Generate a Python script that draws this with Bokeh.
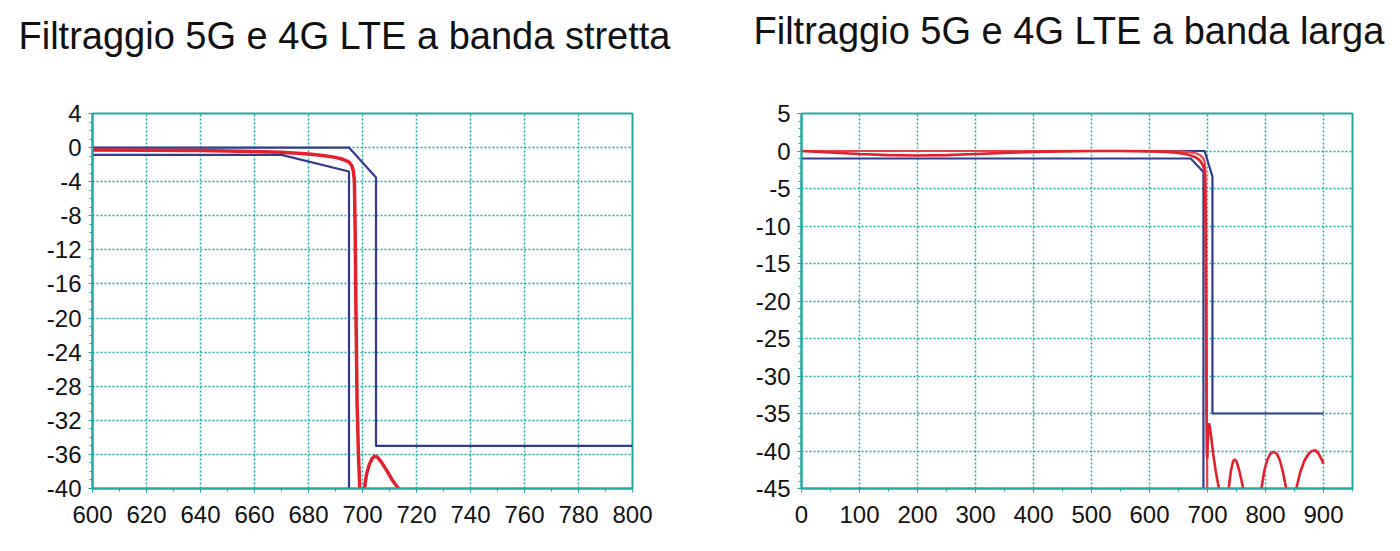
from bokeh.plotting import figure
from bokeh.layouts import row
from bokeh.models import FixedTicker, Range1d, Title
from bokeh.embed import file_html
from bokeh.resources import INLINE

# ---------------- data: narrow band (left) ----------------
n_title = "Filtraggio 5G e 4G LTE a banda stretta"
n_xticks = [600, 620, 640, 660, 680, 700, 720, 740, 760, 780, 800]
n_yticks = [4, 0, -4, -8, -12, -16, -20, -24, -28, -32, -36, -40]
n_upper_x = [600, 695, 705, 705, 800]
n_upper_y = [0, 0, -3.5, -35, -35]
n_lower_x = [600, 670, 695, 695]
n_lower_y = [-0.85, -0.85, -2.8, -45]
n_red_x = [600, 620, 640, 660, 670, 680, 686, 690, 693, 695, 696, 696.6, 697.0,
           697.3, 697.6, 698.0, 698.5, 699.0, 699.5, 700.0, 700.5, 701.5, 702.5,
           703.5, 704.5, 705.5, 707, 709, 711, 713.3, 714.5]
n_red_y = [-0.27, -0.3, -0.35, -0.45, -0.55, -0.75, -0.95, -1.15, -1.4, -1.7,
           -2.1, -2.7, -4, -10, -20, -30, -36, -40, -44, -44, -40.5, -38.3,
           -37.2, -36.5, -36.2, -36.3, -36.9, -37.9, -39, -40, -40.7]

# ---------------- data: wide band (right) ----------------
w_title = "Filtraggio 5G e 4G LTE a banda larga"
w_xticks = [0, 100, 200, 300, 400, 500, 600, 700, 800, 900]
w_yticks = [5, 0, -5, -10, -15, -20, -25, -30, -35, -40, -45]
w_upper_x = [0, 695, 708.5, 708.5, 900]
w_upper_y = [0, 0, -3.4, -35, -35]
w_lower_x = [0, 671, 693, 693]
w_lower_y = [-1.0, -1.0, -2.8, -50]
w_redb_x = [0, 600, 650, 670, 680, 687, 692, 695, 696.5, 697.5, 698.5, 699.5, 700.5]
w_redb_y = [0, 0, -0.05, -0.15, -0.3, -0.55, -0.9, -1.4, -2.5, -10, -30, -45, -50]
w_reda_x = [0, 50, 100, 150, 200, 250, 300, 350, 400, 450, 500, 550, 600, 630,
            650, 665, 675, 683, 688, 692, 694, 695.5, 696.5, 697.5, 698.3, 699.0,
            699.6, 700.3, 701.3, 702.5, 704, 707, 710, 714, 718, 721, 724, 731,
            736.5, 740, 744, 747, 750, 754, 758, 762, 765, 788, 793, 798, 803,
            808, 814, 820, 825, 830, 836, 840, 850, 853, 860, 867, 874, 880,
            886, 891, 896, 900]
w_reda_y = [0, -0.2, -0.4, -0.55, -0.6, -0.55, -0.4, -0.25, -0.12, -0.05, 0, 0,
            -0.05, -0.12, -0.25, -0.45, -0.7, -1.0, -1.4, -1.9, -2.4, -3.2, -8,
            -20, -35, -40.5, -41, -39, -37, -36.3, -36.8, -38.5, -40.5, -42.6,
            -44.3, -45.5, -47, -48, -45, -42.8, -41.4, -41.1, -41.4, -42.4,
            -43.7, -45.2, -47, -48, -45, -42.6, -41.2, -40.4, -40.1, -40.4,
            -41.3, -42.8, -45.1, -47, -47, -45, -42.8, -41.3, -40.4, -40,
            -39.9, -40.3, -41, -41.7]

TEAL = "#1fa9a3"
NAVY = "#323a8c"
RED = "#e3202b"
FONT = "Liberation Sans"


def make_fig(title, width, height, xr, yr, xticks, yticks, xminor, yminor,
             bl, br, bt, bb, title_dx, title_gap):
    p = figure(width=width, height=height, output_backend="svg",
               toolbar_location=None, x_range=Range1d(*xr), y_range=Range1d(*yr),
               min_border_left=bl, min_border_right=br, min_border_top=bt,
               min_border_bottom=bb)
    # empty spacer panel between frame and title, then the title itself
    p.add_layout(Title(text=" ", text_font_size="1px", standoff=title_gap), "above")
    p.add_layout(Title(text=title, text_font=FONT, text_font_size="38px",
                       text_font_style="normal", text_color="#111111",
                       align="left", offset=title_dx, standoff=0), "above")
    p.outline_line_color = TEAL
    p.outline_line_width = 2
    p.outline_line_alpha = 1
    p.background_fill_color = "white"
    p.border_fill_color = "white"
    p.xaxis.ticker = FixedTicker(ticks=xticks, minor_ticks=xminor)
    p.yaxis.ticker = FixedTicker(ticks=yticks, minor_ticks=yminor)
    p.xaxis.major_label_overrides = {v: str(v) for v in xticks}
    p.yaxis.major_label_overrides = {v: str(v) for v in yticks}
    for ax in (p.xaxis, p.yaxis):
        ax.axis_line_color = TEAL
        ax.axis_line_width = 2
        ax.major_tick_line_color = TEAL
        ax.minor_tick_line_color = TEAL
        ax.major_tick_in = 0
        ax.major_tick_out = 4
        ax.minor_tick_in = 0
        ax.minor_tick_out = 3
        ax.major_label_text_font = FONT
        ax.major_label_text_font_size = "24px"
        ax.major_label_text_color = "#111111"
    p.yaxis.major_label_standoff = 7
    p.xaxis.major_label_standoff = 13
    p.grid.grid_line_color = TEAL
    p.grid.grid_line_dash = "2 2"
    p.grid.grid_line_width = 1.5
    return p


n_xminor = [v + 10 for v in n_xticks[:-1]]
n_yminor = [v for v in range(-40, 5) if v % 4 != 0]
p1 = make_fig(n_title, 705, 551, (600, 800), (-40, 4), n_xticks, n_yticks,
              n_xminor, n_yminor, 92, 73, 108, 59, -74, 54)
p1.line(n_upper_x, n_upper_y, line_color=NAVY, line_width=2.2)
p1.line(n_lower_x, n_lower_y, line_color=NAVY, line_width=2.2)
p1.line(n_red_x, n_red_y, line_color=RED, line_width=3.5)

w_xminor = [v + 50 for v in w_xticks]
w_yminor = [v for v in range(-45, 6) if v % 5 != 0]
p2 = make_fig(w_title, 695, 551, (0, 950), (-45, 5), w_xticks, w_yticks,
              w_xminor, w_yminor, 96, 48, 113, 63, -48, 59)
p2.line(w_upper_x, w_upper_y, line_color=NAVY, line_width=2.2)
p2.line(w_lower_x, w_lower_y, line_color=NAVY, line_width=2.2)
p2.line(w_redb_x, w_redb_y, line_color="#e8434c", line_width=2.2)
p2.line(w_reda_x, w_reda_y, line_color=RED, line_width=2.6)

layout = row(p1, p2)
open("out.html", "w").write(file_html(layout, INLINE))
